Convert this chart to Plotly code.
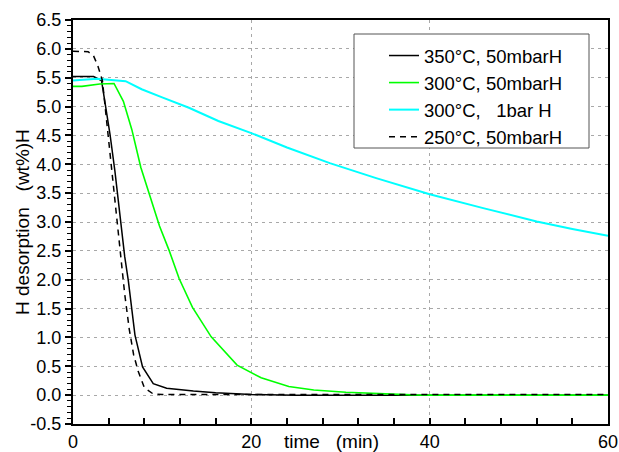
import plotly.graph_objects as go

# ---- data ----
t_350 = [0, 1, 2, 2.3, 3.2, 4.15, 4.7, 5.27, 5.8, 6.2, 6.95, 7.8, 9.0, 10.5, 12, 13.5, 16, 18, 20, 25, 30, 40, 50, 60]
h_350 = [5.52, 5.52, 5.52, 5.52, 5.45, 4.52, 3.88, 3.05, 2.40, 1.99, 1.04, 0.49, 0.20, 0.12, 0.09, 0.07, 0.04, 0.02, 0.01, 0.0, 0.0, 0.0, 0.0, 0.0]

t_300 = [0, 1, 3.0, 4.6, 5.65, 6.6, 7.6, 8.65, 9.7, 10.8, 11.9, 13.4, 15.5, 18.4, 21.1, 24.2, 27, 30.6, 34.5, 38, 40, 50, 60]
h_300 = [5.35, 5.35, 5.39, 5.40, 5.09, 4.60, 3.95, 3.45, 2.93, 2.50, 2.02, 1.52, 1.01, 0.52, 0.30, 0.15, 0.09, 0.05, 0.02, 0.005, 0.0, 0.0, 0.0]

t_300_1bar = [0, 2.7, 5.9, 7.7, 10, 13, 16.3, 20, 24, 28.8, 34, 40, 46, 52, 56, 60]
h_300_1bar = [5.45, 5.48, 5.44, 5.30, 5.16, 4.98, 4.75, 4.54, 4.29, 4.02, 3.76, 3.48, 3.24, 3.01, 2.88, 2.76]

t_250 = [0, 1, 1.7, 2.3, 2.8, 3.3, 3.8, 4.3, 4.8, 5.3, 5.8, 6.3, 6.8, 7.3, 8.0, 9.0, 10, 20, 30, 40, 50, 60]
h_250 = [5.96, 5.96, 5.95, 5.88, 5.70, 5.45, 4.70, 3.95, 3.20, 2.48, 1.75, 1.15, 0.70, 0.42, 0.13, 0.02, 0.01, 0.01, 0.01, 0.01, 0.01, 0.01]

names = ["350°C, 50mbarH", "300°C, 50mbarH", "300°C,\u00a0\u00a0 1bar H", "250°C, 50mbarH"]

y_tickvals = [-0.5, 0.0, 0.5, 1.0, 1.5, 2.0, 2.5, 3.0, 3.5, 4.0, 4.5, 5.0, 5.5, 6.0, 6.5]
y_ticktext = ["-0.5", "0.0", "0.5", "1.0", "1.5", "2.0", "2.5", "3.0", "3.5", "4.0", "4.5", "5.0", "5.5", "6.0", "6.5"]
x_tickvals = [0, 20, 40, 60]
x_ticktext = ["0", "20", "40", "60"]

FONT = "Arial"

fig = go.Figure()
fig.add_trace(go.Scatter(x=t_350, y=h_350, mode="lines", name=names[0],
                         line=dict(color="#000000", width=1.5)))
fig.add_trace(go.Scatter(x=t_300, y=h_300, mode="lines", name=names[1],
                         line=dict(color="#00ff00", width=1.6)))
fig.add_trace(go.Scatter(x=t_300_1bar, y=h_300_1bar, mode="lines", name=names[2],
                         line=dict(color="#00ffff", width=2)))
fig.add_trace(go.Scatter(x=t_250, y=h_250, mode="lines", name=names[3],
                         line=dict(color="#000000", width=1.5, dash="6px,5px")))

grid = dict(showgrid=True, gridcolor="#a8a8a8", gridwidth=1, griddash="3px,4px")

fig.update_xaxes(range=[0, 60], tickmode="array", tickvals=x_tickvals, ticktext=x_ticktext,
                 showline=True, linecolor="#000", linewidth=2, mirror=True, automargin=False,
                 ticks="inside", ticklen=6, tickwidth=1.5, tickcolor="#000",
                 minor=dict(dtick=4, ticks="inside", ticklen=6, tickwidth=1.5, tickcolor="#000", showgrid=False),
                 tickfont=dict(family=FONT, size=18, color="#000"), zeroline=False, **grid)
fig.update_yaxes(range=[-0.5, 6.5], tickmode="array", tickvals=y_tickvals, ticktext=y_ticktext,
                 showline=True, linecolor="#000", linewidth=2, mirror=True, automargin=False,
                 ticks="outside", ticklen=6, tickwidth=1.5, tickcolor="#000",
                 minor=dict(dtick=0.1, ticks="outside", ticklen=4, tickwidth=1, tickcolor="#000", showgrid=False),
                 tickfont=dict(family=FONT, size=18, color="#000"), zeroline=False, **grid)

# plot area: x 73..608, y 20..424
fig.update_layout(
    width=619, height=452,
    margin=dict(l=73, r=11, t=20, b=28, autoexpand=False),
    paper_bgcolor="white", plot_bgcolor="white",
    font=dict(family=FONT, color="#000"),
    showlegend=True,
    legend=dict(x=(384 - 73) / 535, xanchor="left", y=(424 - 37) / 404, yanchor="top",
                bgcolor="rgba(0,0,0,0)", borderwidth=0,
                font=dict(family=FONT, size=18.5, color="#000"), tracegroupgap=0),
    shapes=[dict(type="rect", xref="paper", yref="paper",
                 x0=(354 - 73) / 535, x1=(589 - 73) / 535,
                 y0=(424 - 148) / 404, y1=(424 - 34) / 404,
                 line=dict(color="#555", width=1), fillcolor="white", layer="above")],
    annotations=[
        dict(text="H desorption\u00a0\u00a0 (wt%)H", textangle=-90, xref="paper", yref="paper",
             x=(22 - 73) / 535, y=(424 - 222) / 404, xanchor="center", yanchor="middle",
             showarrow=False, font=dict(family=FONT, size=19, color="#000")),
        dict(text="time\u00a0\u00a0 (min)", xref="paper", yref="paper",
             x=(331 - 73) / 535, y=(424 - 441) / 404, xanchor="center", yanchor="middle",
             showarrow=False, font=dict(family=FONT, size=19, color="#000")),
    ],
)

fig.write_html("out.html", config={"displayModeBar": False},
               post_script="document.body.style.margin='0';document.body.style.overflow='hidden';")
